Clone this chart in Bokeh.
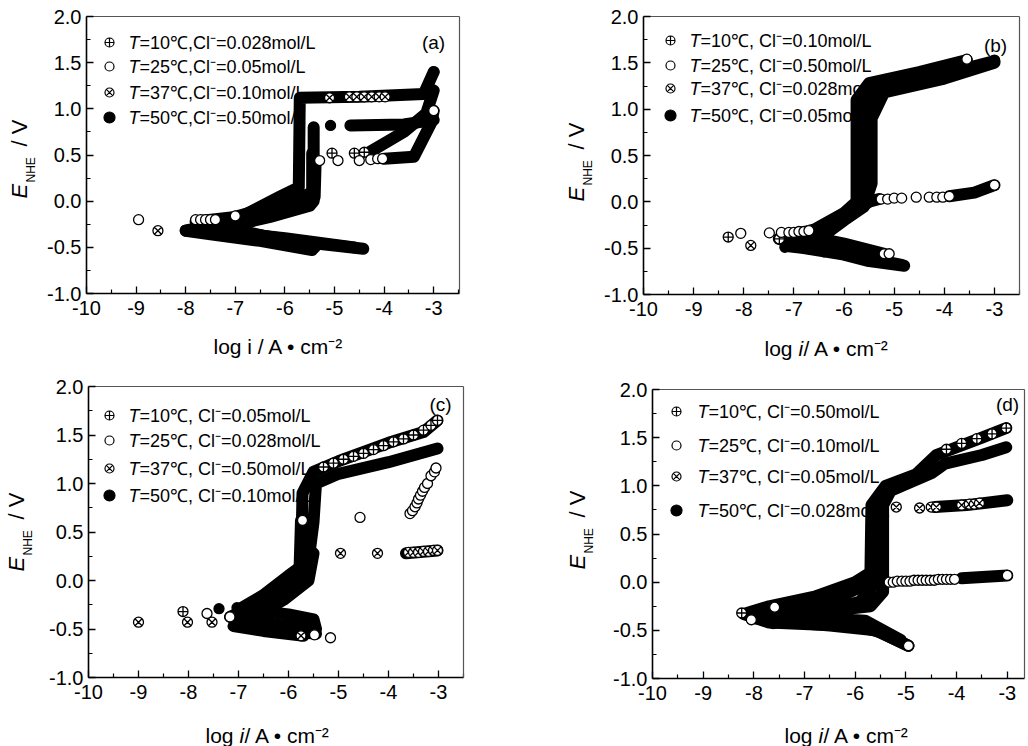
from bokeh.plotting import figure
from bokeh.layouts import row, column
from bokeh.models import FixedTicker, Label, LinearAxis, Range1d
from bokeh.embed import file_html
from bokeh.resources import INLINE

nan = float("nan")

# ---------------- axis ticks ----------------
X_TICKS = [-10, -9, -8, -7, -6, -5, -4, -3]
X_TICK_LABELS = ["-10", "-9", "-8", "-7", "-6", "-5", "-4", "-3"]
X_MINOR = [-9.5, -8.5, -7.5, -6.5, -5.5, -4.5, -3.5, -2.5]
Y_TICKS = [-1.0, -0.5, 0.0, 0.5, 1.0, 1.5, 2.0]
Y_TICK_LABELS = ["-1.0", "-0.5", "0.0", "0.5", "1.0", "1.5", "2.0"]
Y_MINOR = [-0.75, -0.25, 0.25, 0.75, 1.25, 1.75]

TEMPS = ["10", "25", "37", "50"]
CL_A = ["0.028", "0.05", "0.10", "0.50"]
CL_B = ["0.10", "0.50", "0.028", "0.05"]
CL_C = ["0.05", "0.028", "0.50", "0.10"]
CL_D = ["0.50", "0.10", "0.05", "0.028"]

# ---------------- panel (a) ----------------
A10_LX = [-4.6, -6.0, -7.8, -6.8, -5.8, -5.45, -5.45, nan, -4.3, -3.6, -3.15, -3.0]
A10_LY = [-0.5, -0.4, -0.3, -0.2, 0.0, 0.1, 0.52, nan, 0.53, 0.75, 0.95, 1.2]
A10_MX = [-5.05, -4.6, -4.4]
A10_MY = [0.52, 0.52, 0.53]
A25_LX = [-5.4, -6.8, -7.8, -7.0, -6.0, -5.4, -5.38, nan, -4.0, -3.4, -3.05, -3.0]
A25_LY = [-0.5, -0.33, -0.22, -0.17, -0.02, 0.05, 0.44, nan, 0.46, 0.48, 0.85, 0.98]
A25_MX = [-8.95, -7.8, -7.7, -7.6, -7.5, -7.4, -7.0, -5.3, -4.93, -4.5, -4.27, -4.13, -4.03, -3.0]
A25_MY = [-0.2, -0.2, -0.2, -0.2, -0.2, -0.2, -0.16, 0.44, 0.44, 0.44, 0.45, 0.46, 0.46, 0.98]
A37_LX = [-5.45, -6.5, -7.5, -8.0, -7.0, -6.1, -5.72, -5.7, -4.5, -3.2, -3.0]
A37_LY = [-0.53, -0.43, -0.36, -0.32, -0.2, 0.05, 0.15, 1.12, 1.13, 1.16, 1.4]
A37_MX = [-8.56, -5.1, -4.7, -4.55, -4.4, -4.25, -4.1, -3.98]
A37_MY = [-0.32, 1.12, 1.13, 1.13, 1.13, 1.13, 1.13, 1.13]
A50_LX = [-4.42, -5.5, -6.5, -7.5, -8.0, -7.0, -6.3, -5.5, -5.42, -5.42, nan, -4.68, -3.6, -3.0]
A50_LY = [-0.515, -0.45, -0.37, -0.33, -0.32, -0.26, -0.17, -0.05, 0.0, 0.8, nan, 0.82, 0.83, 0.88]
A50_MX = [-5.08, -3.0]
A50_MY = [0.82, 1.4]

# ---------------- panel (b) ----------------
B10_LX = [-4.85, -5.6, -6.5, -7.3, -6.6, -6.0, -5.75, -5.75, -5.5, -4.5, -3.55]
B10_LY = [-0.68, -0.6, -0.5, -0.4, -0.3, -0.12, 0.0, 1.1, 1.28, 1.4, 1.53]
B10_MX = [-8.31, -7.29]
B10_MY = [-0.38, -0.40]
B25_LX = [-5.2, -6.0, -7.0, -6.4, -5.8, -5.5, -5.3, nan, -3.9, -3.4, -3.0]
B25_LY = [-0.56, -0.45, -0.34, -0.3, -0.1, 0.0, 0.03, nan, 0.06, 0.1, 0.18]
B25_MX = [-8.06, -7.49, -7.25, -7.1, -7.0, -6.9, -6.8, -6.7, -5.2, -5.1, -5.26, -5.13, -5.0,
          -4.85, -4.56, -4.3, -4.15, -4.03, -3.9, -3.55, -3.0]
B25_MY = [-0.34, -0.335, -0.33, -0.33, -0.33, -0.32, -0.32, -0.31, -0.56, -0.56, 0.03, 0.03, 0.04,
          0.04, 0.05, 0.05, 0.05, 0.05, 0.06, 1.54, 0.18]
B37_LX = [-5.2, -6.2, -7.0, -6.4, -5.9, -5.6, -5.55, -5.3, -4.0, -3.0]
B37_LY = [-0.62, -0.52, -0.45, -0.35, -0.15, 0.0, 1.05, 1.25, 1.38, 1.52]
B37_MX = [-7.86]
B37_MY = [-0.47]
B50_LX = [-4.8, -5.5, -6.0, -6.8, -7.1, -6.5, -6.0, -5.6, -5.45, -5.45, -5.2, -4.0, -3.0]
B50_LY = [-0.69, -0.64, -0.57, -0.5, -0.48, -0.4, -0.2, -0.05, 0.2, 0.9, 1.18, 1.33, 1.5]
B50_MX = [-7.18, -6.8, -6.4, -6.0, -3.0]
B50_MY = [-0.49, -0.5, -0.54, -0.57, 1.53]

# ---------------- panel (c) ----------------
C10_LX = [-5.5, -6.3, -7.0, -6.5, -6.0, -5.75, -5.72, -5.5, -5.0, -4.0, -3.3, -3.02]
C10_LY = [-0.5, -0.45, -0.38, -0.2, -0.05, 0.1, 0.9, 1.12, 1.23, 1.42, 1.53, 1.65]
C10_MX = [-8.11, -5.3, -5.1, -4.9, -4.7, -4.5, -4.3, -4.1, -3.9, -3.7, -3.5, -3.3, -3.15, -3.02]
C10_MY = [-0.32, 1.17, 1.21, 1.25, 1.28, 1.31, 1.35, 1.39, 1.43, 1.46, 1.5, 1.55, 1.6, 1.65]
C25_LX = [-5.45, -6.3, -7.17, -6.6, -6.0, -5.78, -5.75]
C25_LY = [-0.55, -0.5, -0.375, -0.25, -0.05, 0.1, 0.62]
C25_MX = [-7.63, -7.17, -5.48, -5.16, -5.72, -4.57, -3.57, -3.52, -3.47, -3.43, -3.4, -3.36, -3.32,
          -3.28, -3.22, -3.15, -3.08, -3.05]
C25_MY = [-0.34, -0.375, -0.56, -0.59, 0.62, 0.65, 0.69, 0.72, 0.76, 0.8, 0.84, 0.88, 0.92,
          0.96, 1.0, 1.08, 1.12, 1.16]
C37_LX = [-5.7, -6.5, -7.1, -6.6, -6.1, -5.6, -5.5, nan, -3.65, -3.02]
C37_LY = [-0.57, -0.52, -0.47, -0.35, -0.2, 0.0, 0.28, nan, 0.28, 0.31]
C37_MX = [-9.0, -8.02, -7.53, -5.75, -4.96, -4.22, -3.6, -3.5, -3.4, -3.3, -3.2, -3.1, -3.02]
C37_MY = [-0.43, -0.43, -0.43, -0.57, 0.28, 0.28, 0.29, 0.29, 0.29, 0.3, 0.3, 0.31, 0.31]
C50_LX = [-5.45, -5.5, -6.0, -6.8, -7.0, -6.5, -6.0, -5.6, -5.5, -5.45, -5.0, -4.0, -3.02]
C50_LY = [-0.5, -0.4, -0.35, -0.3, -0.3, -0.15, 0.05, 0.2, 0.6, 1.0, 1.1, 1.22, 1.36]
C50_MX = [-7.39, -7.03]
C50_MY = [-0.29, -0.28]

# ---------------- panel (d) ----------------
D10_LX = [-4.95, -5.5, -6.0, -6.8, -7.7, -8.2, -7.7, -6.8, -6.0, -5.7, -5.68, -5.4, -4.8, -4.4, -3.5, -3.02]
D10_LY = [-0.66, -0.52, -0.45, -0.44, -0.42, -0.33, -0.25, -0.15, 0.0, 0.1, 0.8, 1.0, 1.12, 1.32, 1.5, 1.6]
D10_MX = [-8.24, -4.2, -3.9, -3.6, -3.3, -3.02]
D10_MY = [-0.32, 1.38, 1.44, 1.49, 1.54, 1.6]
D25_LX = [-4.95, -5.6, -6.5, -7.6, -8.05, -7.6, -6.5, -5.9, -5.5, -5.4, nan, -3.9, -3.0]
D25_LY = [-0.66, -0.5, -0.45, -0.4, -0.37, -0.3, -0.2, -0.05, 0.0, 0.0, nan, 0.04, 0.07]
D25_MX = [-8.05, -7.59, -4.95, -5.33, -5.25, -5.17, -5.08, -5.0, -4.92, -4.84, -4.76, -4.68, -4.6,
          -4.52, -4.44, -4.36, -4.28, -4.2, -4.12, -4.04, -3.0]
D25_MY = [-0.39, -0.26, -0.66, 0.0, 0.0, 0.01, 0.01, 0.01, 0.01, 0.02, 0.02, 0.02, 0.02,
          0.02, 0.02, 0.03, 0.03, 0.03, 0.03, 0.03, 0.07]
D37_LX = [-5.3, -6.0, -7.5, -6.6, -5.9, -5.6, -5.55, nan, -4.43, -3.8, -3.0]
D37_LY = [-0.55, -0.42, -0.38, -0.3, -0.2, 0.0, 0.78, nan, 0.78, 0.8, 0.85]
D37_MX = [-5.19, -4.73, -4.5, -4.4, -3.9, -3.75, -3.65, -3.55]
D37_MY = [0.78, 0.77, 0.78, 0.78, 0.8, 0.81, 0.81, 0.82]
D50_LX = [-5.1, -5.8, -6.5, -7.6, -7.0, -6.2, -5.7, -5.45, -5.45, -5.3, -4.5, -4.23, -3.5, -3.02]
D50_LY = [-0.6, -0.4, -0.38, -0.42, -0.35, -0.28, -0.25, -0.1, 0.8, 0.95, 1.13, 1.23, 1.32, 1.4]
D50_MX = [-7.62]
D50_MY = [-0.43]

# ---------------- styling ----------------
FONT = "Liberation Sans"
MARKERS = ["circle_cross", "circle", "circle_x", "circle"]
FILLS = ["white", "white", "white", "black"]
W_FIG, H_FIG = 514, 373
Y0, Y1 = -1.0, 2.0


def make_panel(box, xmax, series, cls, sep, letter, letter_pos, leg, ylab, xlab, italic_i):
    # box = pixel margins (left, right, top, bottom) of the plotting box inside the cell
    L, R, T, B = box
    W = W_FIG - L - R
    H = H_FIG - T - B
    kx = W / (xmax + 10)
    ky = H / (Y1 - Y0)
    p = figure(width=W_FIG, height=H_FIG,
               x_range=Range1d(-10 - L / kx, xmax + R / kx),
               y_range=Range1d(Y0 - B / ky, Y1 + T / ky),
               x_axis_location=None, y_axis_location=None, min_border=0,
               output_backend="svg", toolbar_location=None)
    p.grid.visible = False
    p.outline_line_color = None
    p.background_fill_color = "white"
    p.border_fill_color = "white"

    def style(ax, ticks, minor, labs):
        ax.ticker = FixedTicker(ticks=ticks, minor_ticks=minor)
        ax.major_label_overrides = {t: s for t, s in zip(ticks, labs)}
        ax.axis_line_width = 1.6
        ax.axis_line_color = "black"
        ax.major_tick_in = 7
        ax.major_tick_out = 0
        ax.minor_tick_in = 4
        ax.minor_tick_out = 0
        ax.major_tick_line_width = 1.3
        ax.minor_tick_line_width = 1.2
        ax.major_label_text_font = FONT
        ax.major_label_text_font_size = "20px"
        ax.major_label_text_color = "black"

    xa = LinearAxis(fixed_location=Y0, bounds=(-10, xmax), major_label_standoff=7)
    style(xa, X_TICKS, X_MINOR, X_TICK_LABELS)
    p.add_layout(xa, "below")
    ya = LinearAxis(fixed_location=-10, bounds=(Y0, Y1), major_label_standoff=5)
    style(ya, Y_TICKS, Y_MINOR, Y_TICK_LABELS)
    p.add_layout(ya, "left")
    ta = LinearAxis(fixed_location=Y1, bounds=(-10, xmax), ticker=FixedTicker(ticks=[]),
                    axis_line_color="#555555", axis_line_width=1.2,
                    major_label_text_font_size="0px")
    p.add_layout(ta, "above")
    ra = LinearAxis(fixed_location=xmax, bounds=(Y0, Y1), ticker=FixedTicker(ticks=[]),
                    axis_line_color="#555555", axis_line_width=1.2,
                    major_label_text_font_size="0px")
    p.add_layout(ra, "right")

    def dx(sx):
        return -10 + (sx - L) / kx

    def dy(sy):
        return Y1 - (sy - T) / ky

    def lab(sx, sy, text, size, style="normal", angle=0, align="left", baseline="middle"):
        p.add_layout(Label(x=dx(sx), y=dy(sy), text=text, text_font=FONT,
                           text_font_size=size, text_font_style=style, angle=angle,
                           angle_units="deg", text_align=align, text_baseline=baseline,
                           text_color="black"))

    # curves (dense symbols rendered as thick bands)
    for lx, ly, mx, my in series:
        p.line(lx, ly, line_width=12, line_color="black", line_join="round", line_cap="round")
    for i, (lx, ly, mx, my) in enumerate(series):
        p.scatter(mx, my, marker=MARKERS[i], size=10, fill_color=FILLS[i],
                  line_color="black", line_width=1.3)

    # legend
    msx, tsx, rows = leg
    for i in range(4):
        p.scatter([dx(msx)], [dy(rows[i])], marker=MARKERS[i], size=9 if i < 3 else 11,
                  fill_color=FILLS[i], line_color="black", line_width=1.2)
        lab(tsx, rows[i], "T", "18px", "italic")
        lab(tsx + 11, rows[i], "=" + TEMPS[i] + "\u2103," + sep + "Cl\u207b=" + cls[i] + "mol/L", "18px")

    # panel letter
    lab(letter_pos[0], letter_pos[1], letter, "19px", align="center")

    # y label
    (ex, ey), (nx, ny), (vx, vy) = ylab
    lab(ex, ey, "E", "22px", "italic", angle=90)
    lab(nx, ny, "NHE", "12px", angle=90)
    lab(vx, vy, "/ V", "22px", angle=90)

    # x label
    x0, yb = xlab
    if italic_i:
        lab(x0, yb, "log ", "21px", baseline="alphabetic")
        lab(x0 + 34, yb, "i", "21px", "italic", baseline="alphabetic")
        lab(x0 + 39, yb, " / A \u2022 cm\u207b\u00b2", "21px", baseline="alphabetic")
    else:
        lab(x0, yb, "log i / A \u2022 cm\u207b\u00b2", "21px", baseline="alphabetic")
    return p


SER_A = [(A10_LX, A10_LY, A10_MX, A10_MY), (A25_LX, A25_LY, A25_MX, A25_MY),
         (A37_LX, A37_LY, A37_MX, A37_MY), (A50_LX, A50_LY, A50_MX, A50_MY)]
SER_B = [(B10_LX, B10_LY, B10_MX, B10_MY), (B25_LX, B25_LY, B25_MX, B25_MY),
         (B37_LX, B37_LY, B37_MX, B37_MY), (B50_LX, B50_LY, B50_MX, B50_MY)]
SER_C = [(C10_LX, C10_LY, C10_MX, C10_MY), (C25_LX, C25_LY, C25_MX, C25_MY),
         (C37_LX, C37_LY, C37_MX, C37_MY), (C50_LX, C50_LY, C50_MX, C50_MY)]
SER_D = [(D10_LX, D10_LY, D10_MX, D10_MY), (D25_LX, D25_LY, D25_MX, D25_MY),
         (D37_LX, D37_LY, D37_MX, D37_MY), (D50_LX, D50_LY, D50_MX, D50_MY)]

pa = make_panel((86, 55, 16, 80), -2.48, SER_A, CL_A, "", "(a)", (433, 42),
                (109, 128, [42, 66, 92, 117]),
                ((19, 198), (30, 182), (19, 146)), (213, 346), False)
pb = make_panel((129, 9, 16, 79), -2.5, SER_B, CL_B, " ", "(b)", (481, 45),
                (156, 175, [40, 65, 88, 115]),
                ((62, 201), (73, 185), (62, 149)), (250, 348), True)
pc = make_panel((88, 51, 13, 69), -2.5, SER_C, CL_C, " ", "(c)", (440, 31),
                (109, 128, [42, 67, 95, 122]),
                ((16, 198), (27, 182), (16, 146)), (205, 362), True)
pd = make_panel((138, 4, 16, 68), -2.66, SER_D, CL_D, " ", "(d)", (493, 31),
                (162, 183, [38, 72, 103, 137]),
                ((63, 196), (74, 180), (63, 144)), (270, 362), True)

layout = column(row(pa, pb), row(pc, pd))
open("out.html", "w").write(file_html(layout, INLINE))
